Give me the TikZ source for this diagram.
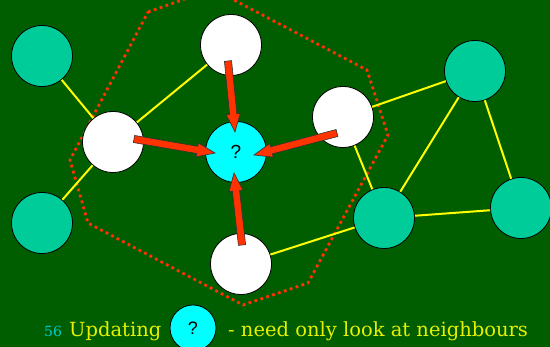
\documentclass[tikz,border=0pt]{standalone}
\usepackage{fontspec}
\setmainfont{DejaVu Serif}
\newfontfamily\qfont{Liberation Sans}
\usetikzlibrary{calc}
\definecolor{bg}{RGB}{0,94,0}
\definecolor{teal}{RGB}{0,204,153}
\definecolor{qcyan}{RGB}{0,255,255}
\definecolor{ared}{RGB}{255,51,0}
\definecolor{ylw}{RGB}{255,255,0}
\definecolor{txtyel}{RGB}{230,240,0}
\definecolor{numcyan}{RGB}{0,204,204}
\tikzset{
  vtx/.style={circle,draw=black,line width=0.8pt,minimum size=61pt,inner sep=0pt},
  white vtx/.style={vtx,fill=white},
  teal vtx/.style={vtx,fill=teal},
  q vtx/.style={vtx,fill=qcyan,font=\qfont\fontsize{19}{19}\selectfont},
  link/.style={draw=ylw,line width=2pt},
  halo/.style={draw=ared,line width=2.8pt,dash pattern=on 2.8pt off 3.4pt},
  fatarrow/.style={fill=ared,draw=black!80,line width=0.6pt,line join=miter},
}
\newcommand\fatarrowpath[2]{%
  \path ($(#2)!18pt!(#1)$) coordinate (hb);
  \filldraw[fatarrow] ($(#1)!3.6pt!90:(#2)$) -- ($(hb)!3.6pt!90:(#2)$)
    -- ($(hb)!7pt!90:(#2)$) -- (#2) -- ($(hb)!7pt!-90:(#2)$)
    -- ($(hb)!3.6pt!-90:(#2)$) -- ($(#1)!3.6pt!-90:(#2)$) -- cycle;
}
\begin{document}
\begin{tikzpicture}[x=1pt,y=-1pt]
\fill[bg] (0,0) rectangle (550,347);
\useasboundingbox (0,0) rectangle (550,347);
% dotted neighbourhood boundary
\draw[halo] (148,12) -- (213,-11) -- (367,70) -- (388,135) -- (308,283)
  -- (243,305) -- (88,223) -- (70,160) -- cycle;
% nodes
\node[teal vtx] (A) at (42,56) {};
\node[white vtx] (B) at (113,142) {};
\node[white vtx] (C) at (231,45) {};
\node[q vtx] (Q) at (236,152) {?};
\node[white vtx] (D) at (343,117) {};
\node[teal vtx] (E) at (475,71) {};
\node[teal vtx] (F) at (42,223) {};
\node[white vtx] (G) at (241,264) {};
\node[teal vtx] (H) at (384,218) {};
\node[teal vtx] (I) at (521,208) {};
% links
\draw[link] (A) -- (B);
\draw[link] (B) -- (C);
\draw[link] (B) -- (F);
\draw[link] (D) -- (E);
\draw[link] (D) -- (H);
\draw[link] (E) -- (H);
\draw[link] (E) -- (I);
\draw[link] (H) -- (I);
\draw[link] (G) -- (H);
% arrows
\coordinate (tC) at (228,61);  \coordinate (hC) at (235,132);
\coordinate (tB) at (134,139); \coordinate (hB) at (215,153);
\coordinate (tD) at (337,133); \coordinate (hD) at (254,155);
\coordinate (tG) at (242,245); \coordinate (hG) at (234,173);
\fatarrowpath{tC}{hC}
\fatarrowpath{tB}{hB}
\fatarrowpath{tD}{hD}
\fatarrowpath{tG}{hG}
% caption
\node[anchor=base west,inner sep=0pt,text=numcyan,font=\fontsize{14}{14}\selectfont] (num) at (44,337) {56};
\node[anchor=base west,inner sep=0pt,text=txtyel,font=\fontsize{19.5}{19.5}\selectfont] (upd) at (69,337) {Updating};
\node[vtx,fill=qcyan,minimum size=46pt,font=\qfont\fontsize{18}{18}\selectfont] (q2) at (193,328) {?};
\node[anchor=base west,inner sep=0pt,text=txtyel,font=\fontsize{19.5}{19.5}\selectfont] (rest) at (228,337) {- need only look at neighbours};
\end{tikzpicture}
\end{document}
